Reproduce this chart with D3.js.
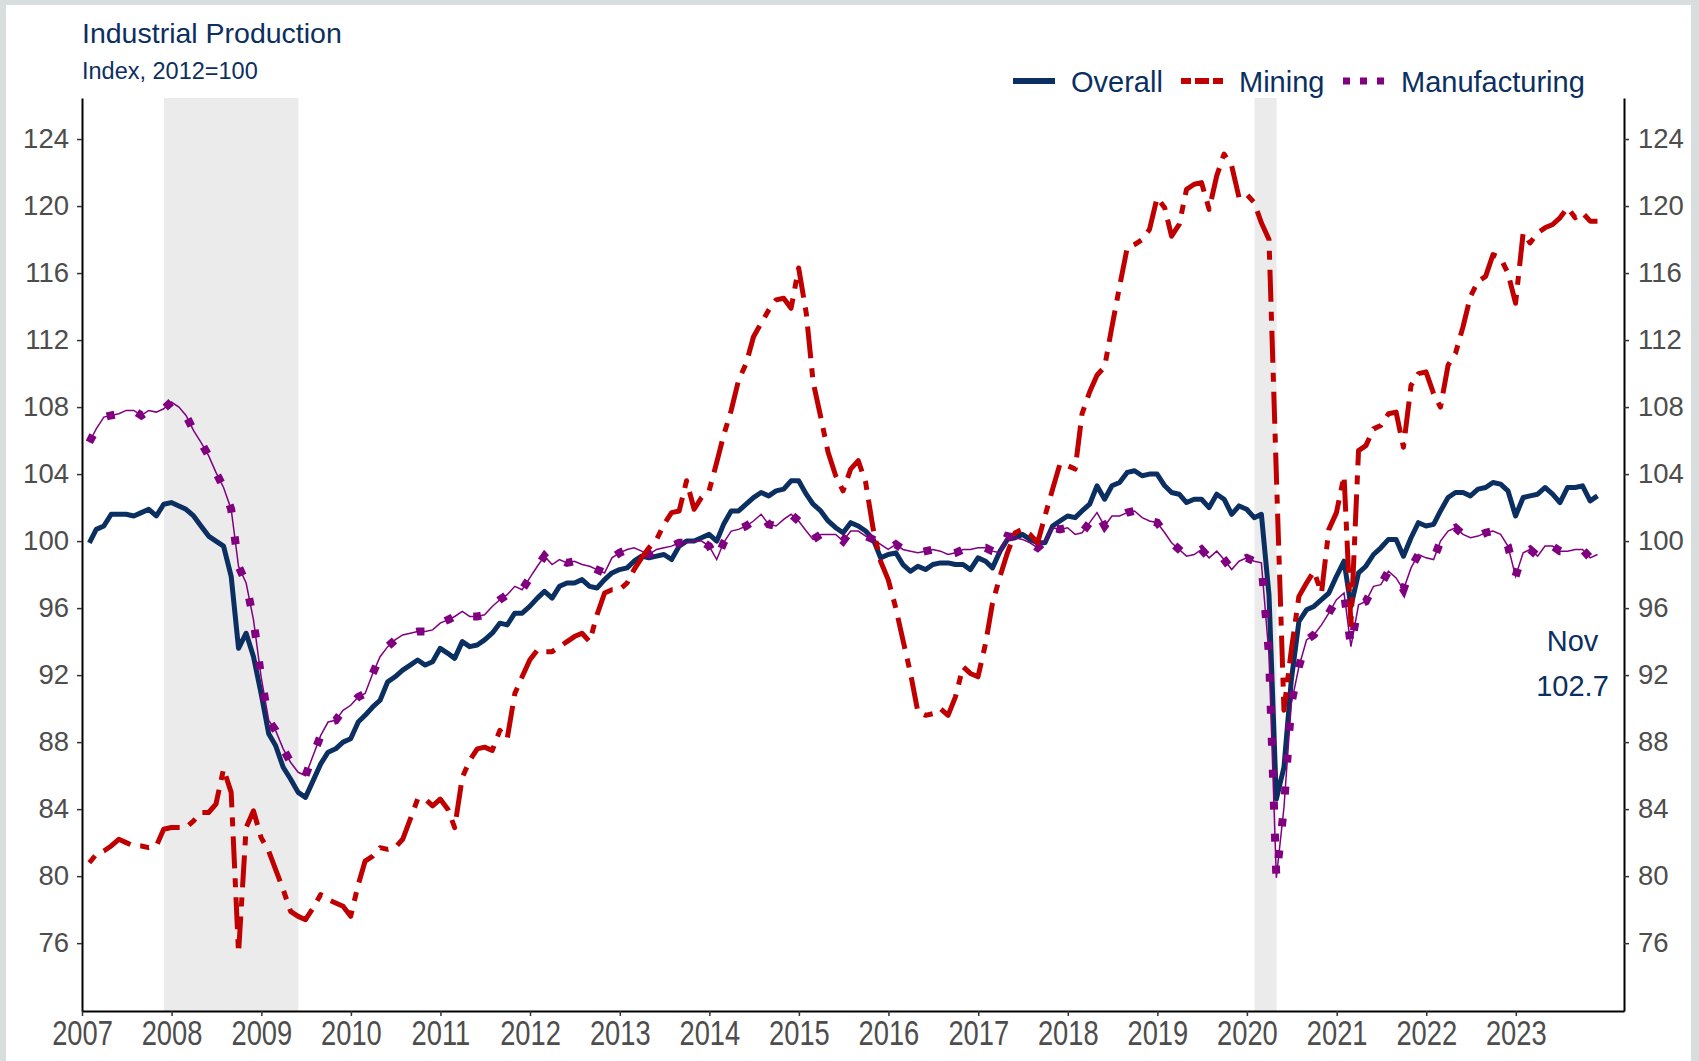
<!DOCTYPE html>
<html>
<head>
<meta charset="utf-8">
<title>Industrial Production</title>
<script src="https://cdn.jsdelivr.net/npm/d3@7"></script>
<style>
    html, body { margin: 0; padding: 0; background: #d8dede; }
    #chart { width: 1699px; height: 1061px; }
    svg text { font-family: "Liberation Sans", Arial, Helvetica, sans-serif; }
</style>
</head>
<body>
<div id="chart"></div>
<script>

// Monthly index values, Jan 2007 - Nov 2023 (2012=100), one row per year
var startYear = 2007;

var overallValues = [
    99.9, 100.7, 100.9, 101.6, 101.6, 101.6, 101.5, 101.7, 101.9, 101.5, 102.2, 102.3,
    102.1, 101.9, 101.5, 100.9, 100.3, 100.0, 99.7, 97.9, 93.6, 94.5, 93.1, 90.9,
    88.5, 87.8, 86.5, 85.8, 85.0, 84.7, 85.7, 86.7, 87.4, 87.6, 88.0, 88.2,
    89.2, 89.6, 90.1, 90.5, 91.6, 91.9, 92.3, 92.6, 92.9, 92.6, 92.8, 93.6,
    93.3, 93.0, 94.0, 93.7, 93.8, 94.1, 94.5, 95.1, 95.0, 95.7, 95.7, 96.1,
    96.6, 97.0, 96.6, 97.3, 97.5, 97.5, 97.7, 97.3, 97.2, 97.7, 98.1, 98.3,
    98.4, 98.8, 99.1, 99.0, 99.1, 99.2, 98.9, 99.7, 100.0, 100.0, 100.2, 100.4,
    100.0, 101.0, 101.8, 101.8, 102.2, 102.6, 102.9, 102.7, 103.0, 103.1, 103.6, 103.6,
    102.8, 102.2, 101.8, 101.2, 100.8, 100.5, 101.1, 100.9, 100.6, 100.1, 99.0, 99.2,
    99.3, 98.6, 98.2, 98.5, 98.3, 98.6, 98.7, 98.7, 98.6, 98.6, 98.3, 99.0,
    98.8, 98.4, 99.4, 100.1, 100.2, 100.4, 100.1, 99.9, 99.9, 100.9, 101.2, 101.5,
    101.4, 101.8, 102.2, 103.3, 102.5, 103.3, 103.5, 104.1, 104.2, 103.9, 104.0, 104.0,
    103.3, 102.9, 102.8, 102.3, 102.5, 102.5, 102.0, 102.8, 102.5, 101.6, 102.1, 101.9,
    101.4, 101.6, 96.8, 84.6, 86.5, 91.7, 95.2, 95.9, 96.1, 96.5, 96.9, 97.9,
    98.8, 96.1, 98.1, 98.5, 99.2, 99.6, 100.1, 100.1, 99.1, 100.2, 101.1, 100.9,
    101.0, 101.8, 102.6, 102.9, 102.9, 102.7, 103.1, 103.2, 103.5, 103.4, 103.0, 101.5,
    102.6, 102.7, 102.8, 103.2, 102.8, 102.3, 103.2, 103.2, 103.3, 102.4, 102.7
];

var miningValues = [
    80.8, 81.3, 81.5, 81.8, 82.2, 82.0, 81.8, 81.8, 81.7, 81.8, 82.8, 82.9,
    82.9, 82.9, 83.3, 83.8, 83.8, 84.3, 86.4, 85.0, 75.4, 82.9, 83.9, 82.3,
    81.5, 80.4, 79.2, 77.9, 77.6, 77.4, 78.1, 78.9, 78.6, 78.4, 78.2, 77.6,
    79.5, 80.9, 81.2, 81.7, 81.6, 81.7, 82.2, 83.4, 84.6, 84.6, 84.2, 84.6,
    84.0, 82.9, 85.9, 86.9, 87.6, 87.7, 87.5, 88.7, 88.2, 90.9, 91.9, 92.9,
    93.5, 93.4, 93.4, 93.7, 94.0, 94.3, 94.5, 94.0, 95.6, 96.9, 97.1, 97.1,
    97.5, 98.3, 99.0, 99.6, 100.1, 101.0, 101.7, 101.8, 103.6, 101.9, 102.6, 103.0,
    104.7, 106.3, 107.8, 109.6, 110.6, 112.2, 113.0, 113.8, 114.4, 114.5, 113.9, 116.3,
    113.6, 109.5, 107.4, 105.3, 103.9, 103.0, 104.3, 104.8, 103.5, 100.7, 98.8, 97.7,
    96.0, 94.1, 92.1, 89.8, 89.6, 89.7, 90.0, 89.6, 90.7, 92.5, 92.1, 91.9,
    93.9, 96.3, 97.9, 99.3, 100.5, 100.7, 100.4, 99.9, 101.5, 103.1, 104.6, 104.5,
    104.3, 107.6, 108.9, 109.9, 110.4, 112.8, 115.2, 117.5, 117.7, 118.0, 118.6, 120.5,
    119.9, 118.2, 118.9, 121.0, 121.3, 121.4, 119.8, 121.8, 123.1, 122.4, 120.5, 120.7,
    120.2, 119.0, 118.0, 104.0, 89.9, 93.5, 96.7, 97.5, 98.2, 96.9, 100.7, 101.7,
    103.9, 95.0, 105.4, 105.7, 106.7, 106.9, 107.6, 107.7, 105.6, 109.3, 110.0, 110.1,
    108.8, 108.0, 110.5, 111.2, 112.8, 114.6, 115.5, 115.8, 117.1, 116.9, 116.0, 114.2,
    118.4, 117.8, 118.4, 118.7, 118.9, 119.3, 119.9, 119.3, 119.6, 119.1, 119.1
];

var manufacturingValues = [
    105.9, 106.7, 107.4, 107.5, 107.6, 107.8, 107.8, 107.5, 107.8, 107.7, 107.9, 108.3,
    108.0, 107.5, 106.6, 105.9, 105.1, 104.1, 103.2, 101.9, 98.5, 97.5, 95.3, 91.9,
    89.3, 88.7, 87.6, 86.8, 86.2, 86.0, 87.2, 88.4, 89.2, 89.3, 89.9, 90.2,
    90.7, 90.9, 92.1, 93.1, 93.7, 94.1, 94.4, 94.5, 94.6, 94.6, 94.7, 95.1,
    95.3, 95.5, 95.8, 95.5, 95.5, 95.6, 96.1, 96.5, 96.8, 97.3, 97.1, 97.8,
    98.5, 99.1, 98.6, 98.9, 98.7, 98.8, 98.6, 98.5, 98.3, 98.1, 99.0, 99.3,
    99.5, 99.6, 99.4, 99.2, 99.5, 99.6, 99.7, 99.9, 99.9, 100.0, 100.0, 99.7,
    98.9, 99.9, 100.6, 100.7, 100.9, 101.2, 101.6, 101.0, 100.9, 101.3, 101.6, 101.2,
    100.6, 100.1, 100.4, 100.4, 100.4, 100.0, 100.6, 100.6, 100.3, 100.1, 99.8, 99.5,
    99.8, 99.5, 99.4, 99.3, 99.4, 99.5, 99.4, 99.2, 99.3, 99.5, 99.5, 99.6,
    99.6, 99.4, 99.3, 100.3, 100.2, 100.1, 99.9, 99.6, 100.0, 100.8, 100.7, 100.8,
    100.4, 100.5, 101.1, 101.7, 100.9, 101.5, 101.5, 101.7, 101.8, 101.4, 101.2, 101.1,
    100.5, 99.9, 99.5, 99.1, 99.2, 99.5, 99.0, 99.4, 98.9, 98.3, 98.8, 99.0,
    98.8, 98.7, 93.2, 79.9, 84.1, 90.3, 92.5, 94.1, 94.4, 95.0, 95.7, 96.5,
    96.9, 93.7, 96.2, 96.4, 97.3, 97.4, 98.2, 97.8, 97.1, 98.4, 99.2, 99.0,
    98.9, 100.0, 100.6, 100.8, 100.4, 100.2, 100.3, 100.5, 100.6, 100.4, 99.7, 97.9,
    99.3, 99.5, 99.1, 99.7, 99.7, 99.4, 99.4, 99.5, 99.5, 99.0, 99.2
];

var seriesNames = ["Overall", "Mining", "Manufacturing"];
var yTicks = [76, 80, 84, 88, 92, 96, 100, 104, 108, 112, 116, 120, 124];
var xTickYears = [2007, 2008, 2009, 2010, 2011, 2012, 2013, 2014, 2015,
                  2016, 2017, 2018, 2019, 2020, 2021, 2022, 2023];
var recessions = [
    {start: "2007-12-01", end: "2009-06-01"},
    {start: "2020-02-01", end: "2020-05-01"}
];
var lastMonthLabel = "Nov";


/**
 * Constructor for the industrial production chart
 */
function IndustrialChart(){
    var self = this;
    self.init();
};

/**
 * Sets up the svg, the panel and the scales
 */
IndustrialChart.prototype.init = function(){
    var self = this;
    self.svgWidth = 1699;
    self.svgHeight = 1061;
    self.margin = {top: 98, right: 75, bottom: 50, left: 82};
    self.width = self.svgWidth - self.margin.left - self.margin.right;
    self.height = self.svgHeight - self.margin.top - self.margin.bottom;

    self.navy = "#0b2f60";
    self.red = "#c00000";
    self.purple = "#800080";

    self.svg = d3.select("#chart").append("svg")
        .attr("width", self.svgWidth)
        .attr("height", self.svgHeight);

    //white card sitting on the grey page
    self.svg.append("rect")
        .attr("x", 6)
        .attr("y", 5)
        .attr("width", self.svgWidth - 14)
        .attr("height", self.svgHeight - 5)
        .attr("fill", "#ffffff");

    self.plot = self.svg.append("g")
        .attr("transform", "translate(" + self.margin.left + "," + self.margin.top + ")");

    self.x = d3.scaleTime()
        .domain([new Date(2007, 0, 1), new Date(2024, 2, 17)])
        .range([0, self.width]);

    self.y = d3.scaleLinear()
        .domain([71.95, 126.45])
        .range([self.height, 0]);
};

/**
 * Date stamp of the i-th monthly observation (end of that month)
 */
IndustrialChart.prototype.monthDate = function(i){
    return new Date(startYear, i + 1, 0);
};

/**
 * Draws shading, the three lines, axes, legend and labels
 */
IndustrialChart.prototype.update = function(){
    var self = this;
    var parse = d3.timeParse("%Y-%m-%d");

    //recession shading
    self.plot.selectAll("rect.recession")
        .data(recessions)
        .enter().append("rect")
        .attr("class", "recession")
        .attr("x", function(d){ return self.x(parse(d.start)); })
        .attr("width", function(d){ return self.x(parse(d.end)) - self.x(parse(d.start)); })
        .attr("y", 0)
        .attr("height", self.height)
        .attr("fill", "#ebebeb");

    var toPoints = function(values){
        return values.map(function(v, i){ return {date: self.monthDate(i), value: v}; });
    };

    var line = d3.line()
        .x(function(d){ return self.x(d.date); })
        .y(function(d){ return self.y(d.value); });

    var overall = toPoints(overallValues);
    var mining = toPoints(miningValues);
    var manufacturing = toPoints(manufacturingValues);

    self.plot.append("path")
        .datum(overall)
        .attr("d", line)
        .attr("fill", "none")
        .attr("stroke", self.navy)
        .attr("stroke-width", 5)
        .attr("stroke-linejoin", "round");

    //manufacturing: thin line plus a heavy dotted overlay
    self.plot.append("path")
        .datum(manufacturing)
        .attr("d", line)
        .attr("fill", "none")
        .attr("stroke", self.purple)
        .attr("stroke-width", 1.5);

    self.plot.append("path")
        .datum(manufacturing)
        .attr("d", line)
        .attr("fill", "none")
        .attr("stroke", self.purple)
        .attr("stroke-width", 8)
        .attr("stroke-dasharray", "8 24");

    self.plot.append("path")
        .datum(mining)
        .attr("d", line)
        .attr("fill", "none")
        .attr("stroke", self.red)
        .attr("stroke-width", 5)
        .attr("stroke-linejoin", "round")
        .attr("stroke-dasharray", "9 10 32 10");

    //axes
    var yTicksFmt = d3.format("d");
    var leftAxis = self.plot.append("g")
        .call(d3.axisLeft(self.y).tickValues(yTicks).tickFormat(yTicksFmt)
            .tickSize(5).tickSizeOuter(0).tickPadding(8));

    var rightAxis = self.plot.append("g")
        .attr("transform", "translate(" + self.width + ",0)")
        .call(d3.axisRight(self.y).tickValues(yTicks).tickFormat(yTicksFmt)
            .tickSize(5).tickSizeOuter(0).tickPadding(9));

    var bottomAxis = self.plot.append("g")
        .attr("transform", "translate(0," + self.height + ")")
        .call(d3.axisBottom(self.x)
            .tickValues(xTickYears.map(function(yr){ return new Date(yr, 0, 1); }))
            .tickFormat(d3.timeFormat("%Y"))
            .tickSize(5).tickSizeOuter(0).tickPadding(4));

    [leftAxis, rightAxis, bottomAxis].forEach(function(ax){
        ax.select(".domain").attr("stroke", "#000").attr("stroke-width", 2);
        ax.selectAll(".tick line").attr("stroke", "#333").attr("stroke-width", 1.5);
        ax.selectAll(".tick text")
            .attr("fill", "#4d4d4d")
            .style("font-size", "27.5px");
    });

    //year labels are drawn tall and narrow
    bottomAxis.selectAll(".tick text")
        .style("font-size", "35px")
        .attr("transform", "scale(0.78,1)");

    //title and subtitle
    self.svg.append("text")
        .attr("x", 82)
        .attr("y", 43)
        .attr("fill", self.navy)
        .style("font-size", "28.5px")
        .text("Industrial Production");

    self.svg.append("text")
        .attr("x", 82)
        .attr("y", 79)
        .attr("fill", self.navy)
        .style("font-size", "23.5px")
        .text("Index, 2012=100");

    //legend
    var legendItems = [
        {name: seriesNames[0], x: 1013, color: self.navy, dash: null, width: 6},
        {name: seriesNames[1], x: 1181, color: self.red, dash: "10 4 14 4", width: 6},
        {name: seriesNames[2], x: 1343, color: self.purple, dash: "7 10", width: 7}
    ];
    var legend = self.svg.append("g").attr("class", "legend");
    var item = legend.selectAll("g").data(legendItems).enter().append("g")
        .attr("transform", function(d){ return "translate(" + d.x + ",81)"; });
    item.append("line")
        .attr("x1", 0).attr("x2", 42)
        .attr("y1", 0).attr("y2", 0)
        .attr("stroke", function(d){ return d.color; })
        .attr("stroke-width", function(d){ return d.width; })
        .attr("stroke-dasharray", function(d){ return d.dash; });
    item.append("text")
        .attr("x", 58)
        .attr("y", 11)
        .attr("fill", self.navy)
        .style("font-size", "29px")
        .text(function(d){ return d.name; });

    //label for the latest overall reading
    var last = overall[overall.length - 1];
    var labelX = self.x(last.date) - 25;
    var labels = [lastMonthLabel, d3.format(".1f")(last.value)];
    self.plot.selectAll("text.lastLabel")
        .data(labels)
        .enter().append("text")
        .attr("class", "lastLabel")
        .attr("x", labelX)
        .attr("y", function(d, i){ return self.y(93.45) + i * 45.5; })
        .attr("text-anchor", "middle")
        .attr("fill", self.navy)
        .style("font-size", "29px")
        .text(function(d){ return d; });
};

var chart = new IndustrialChart();
chart.update();

</script>
</body>
</html>
